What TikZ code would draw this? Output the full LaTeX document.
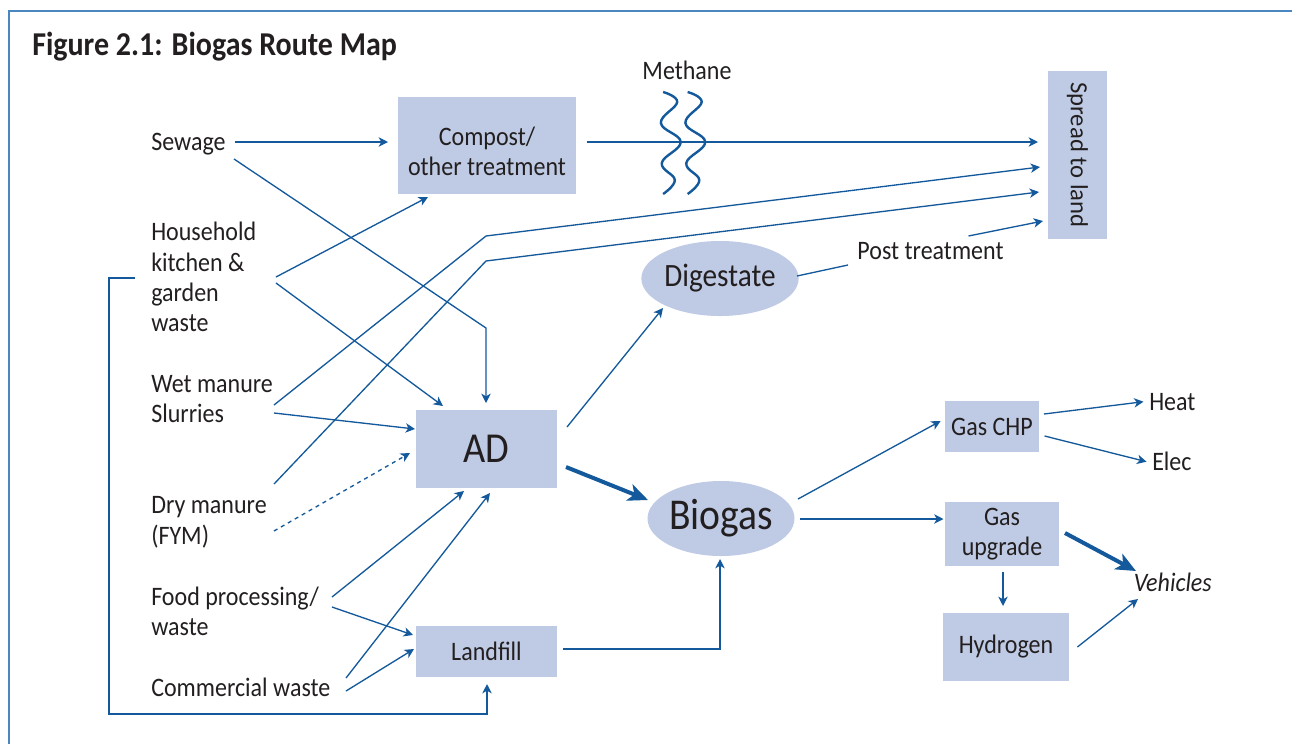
\documentclass[tikz,border=0pt]{standalone}
\usepackage{fontspec}
\setmainfont{Carlito}[FakeStretch=0.9]
\newfontfamily\widefam{Carlito}
\usetikzlibrary{arrows.meta,shapes.geometric}
\definecolor{lineblue}{HTML}{14599B}
\definecolor{frameblue}{HTML}{4A86BF}
\definecolor{boxfill}{HTML}{BFCBE4}
\definecolor{txt}{HTML}{231F20}
\newcommand\lblfont{\fontsize{20pt}{22.7pt}\selectfont}
\newcommand\ttlfont{\fontsize{25pt}{29pt}\selectfont\bfseries}
\newcommand\adfont{\fontsize{32pt}{36pt}\selectfont}
\newcommand\biofont{\fontsize{33pt}{37pt}\selectfont}
\newcommand\digfont{\fontsize{24.4pt}{28pt}\selectfont}
\newcommand\sprfont{\widefam\fontsize{18.5pt}{22pt}\selectfont}
\begin{document}
\begin{tikzpicture}[x=0.75pt,y=-0.75pt,
  conn/.style={draw=lineblue, line width=1pt, -{Stealth[length=7pt,width=7pt,inset=2pt]}},
  plainline/.style={draw=lineblue, line width=1pt},
  dashedconn/.style={conn, dash pattern=on 3pt off 3pt},
  heavyarrow/.style={draw=lineblue, line width=3pt, -{Stealth[length=15pt,width=13pt,inset=4pt]}},
  box/.style={fill=boxfill, inner sep=0pt, align=center, text=txt, font=\lblfont},
  oval/.style={ellipse, fill=boxfill, inner sep=0pt, text=txt},
  lbl/.style={text=txt, font=\lblfont, align=left, inner sep=0pt},
  wave/.style={draw=lineblue, line width=1.8pt},
  frame/.style={draw=frameblue, line width=1.5pt}
]
\useasboundingbox (0,0) rectangle (1292,744);
\draw[frame] (1292,11) -- (9,11) -- (9,744);

% title and labels (base = baseline of last line)
\node[lbl, anchor=base west, font=\ttlfont] (title) at (32,55) {Figure 2.1: Biogas Route Map};
\node[lbl, anchor=base west] (sewage) at (151,150) {Sewage};
\node[lbl, anchor=base west] (household) at (151,331.7) {Household\\kitchen \&\\garden\\waste};
\node[lbl, anchor=base west] (wet) at (151,422.7) {Wet manure\\Slurries};
\node[lbl, anchor=base west] (dry) at (151,544) {Dry manure\\(FYM)};
\node[lbl, anchor=base west] (food) at (151,635.7) {Food processing/\\waste};
\node[lbl, anchor=base west] (comm) at (151,696.7) {Commercial waste};
\node[lbl, anchor=base] (methane) at (687,79) {Methane};
\node[lbl, anchor=base] (post) at (930.5,259) {Post treatment};
\node[lbl, anchor=base west] (heat) at (1149,410) {Heat};
\node[lbl, anchor=base west] (elec) at (1152,470) {Elec};
\node[lbl, anchor=base west] (vehicles) at (1133.5,591.7) {\itshape Vehicles};

% boxes
\node[box, minimum width=133.5pt, minimum height=72.75pt,
      label={[lbl, align=center, yshift=-4.5pt]center:{Compost/\\other treatment}}] (compost) at (487,145.5) {};
\node[box, minimum width=105.75pt, minimum height=58.5pt, font=\adfont] (ad) at (486.5,449) {AD};
\node[box, minimum width=105.75pt, minimum height=38.25pt] (landfill) at (486.5,651.5) {Landfill};
\node[box, rotate=-90, minimum width=126pt, minimum height=44.25pt, font=\sprfont] (spread) at (1077.5,155) {Spread to land};
\node[oval, minimum width=111pt, minimum height=56.25pt, font=\digfont] (digestate) at (720,278.5) {Digestate};
\node[oval, minimum width=110.25pt, minimum height=56.25pt, font=\biofont] (biogas) at (721,518.5) {Biogas};
\node[box, minimum width=70.5pt, minimum height=38.25pt] (chp) at (992,426.5) {Gas CHP};
\node[box, minimum width=85.5pt, minimum height=48pt] (upgrade) at (1002,534) {Gas\\upgrade};
\node[box, minimum width=94pt, minimum height=51pt] (hydrogen) at (1006,647) {Hydrogen};

% connector end points
\coordinate (sewR) at (235,142);   \coordinate (compL) at (388,142);
\coordinate (sewD) at (234,159);   \coordinate (sewK) at (486,328);  \coordinate (adT1) at (486,403);
\coordinate (hhU) at (276,277);    \coordinate (compB) at (428,197);
\coordinate (hhD) at (276,283);    \coordinate (adT2) at (443,406);
\coordinate (hhL) at (135,278);    \coordinate (brA) at (109,278);   \coordinate (brB) at (109,714);
\coordinate (brC) at (487,714);    \coordinate (lfB) at (487,684);
\coordinate (wetU) at (274,405);   \coordinate (bendA) at (486,236); \coordinate (spr1) at (1040,167);
\coordinate (wetD) at (274,413);   \coordinate (adL1) at (415,429);
\coordinate (dryU) at (274,484);   \coordinate (bendB) at (486,261); \coordinate (spr2) at (1039,192);
\coordinate (dryD) at (274,531);   \coordinate (adL2) at (410,453);
\coordinate (foodU) at (332,597);  \coordinate (adB1) at (464,491);
\coordinate (foodD) at (332,607);  \coordinate (lfL1) at (413,635);
\coordinate (comU) at (346,678);   \coordinate (adB2) at (490,493);
\coordinate (comD) at (346,691);   \coordinate (lfL2) at (414,649);
\coordinate (lfR) at (563,649);    \coordinate (lfK) at (720,649);   \coordinate (bioB) at (720,559);
\coordinate (adR1) at (566,467);   \coordinate (bioL) at (648,500);
\coordinate (adR2) at (567,427);   \coordinate (digB) at (663,308);
\coordinate (digR) at (797,276);   \coordinate (postL) at (848,265);
\coordinate (postR) at (968.5,236); \coordinate (spr3) at (1043,221);
\coordinate (compR) at (586.5,142); \coordinate (spr0) at (1038,142);
\coordinate (bioR1) at (798,499);  \coordinate (chpL) at (940.6,421);
\coordinate (chpR1) at (1044,414); \coordinate (heatL) at (1143.5,401.7);
\coordinate (chpR2) at (1044.6,436); \coordinate (elecL) at (1146.5,461.7);
\coordinate (bioR2) at (800,519);  \coordinate (upL) at (943.5,519);
\coordinate (upB) at (1003,572);   \coordinate (hyT) at (1003,606);
\coordinate (upR) at (1065,533);   \coordinate (vehA) at (1136,571);
\coordinate (hyR) at (1077.4,647); \coordinate (vehB) at (1138,599);

% connectors
\draw[conn] (sewR) -- (compL);
\draw[conn] (sewD) -- (sewK) -- (adT1);
\draw[conn] (hhU) -- (compB);
\draw[conn] (hhD) -- (adT2);
\draw[conn] (hhL) -- (brA) -- (brB) -- (brC) -- (lfB);
\draw[conn] (wetU) -- (bendA) -- (spr1);
\draw[conn] (wetD) -- (adL1);
\draw[conn] (dryU) -- (bendB) -- (spr2);
\draw[dashedconn] (dryD) -- (adL2);
\draw[conn] (foodU) -- (adB1);
\draw[conn] (foodD) -- (lfL1);
\draw[conn] (comU) -- (adB2);
\draw[conn] (comD) -- (lfL2);
\draw[conn] (lfR) -- (lfK) -- (bioB);
\draw[heavyarrow] (adR1) -- (bioL);
\draw[conn] (adR2) -- (digB);
\draw[plainline] (digR) -- (postL);
\draw[conn] (postR) -- (spr3);
\draw[conn] (compR) -- (spr0);
\draw[conn] (bioR1) -- (chpL);
\draw[conn] (chpR1) -- (heatL);
\draw[conn] (chpR2) -- (elecL);
\draw[conn] (bioR2) -- (upL);
\draw[conn] (upB) -- (hyT);
\draw[heavyarrow] (upR) -- (vehA);
\draw[conn] (hyR) -- (vehB);

% methane waves
\draw[wave] plot[smooth, tension=0.7] coordinates {(663.1,92) (677.2,102) (660.9,123) (680.7,142) (661.8,163) (674.8,180) (663.1,194)};
\draw[wave] plot[smooth, tension=0.7] coordinates {(687.6,92) (701.7,102) (685.4,123) (705.2,142) (686.3,163) (699.3,180) (687.6,194)};
\end{tikzpicture}
\end{document}
